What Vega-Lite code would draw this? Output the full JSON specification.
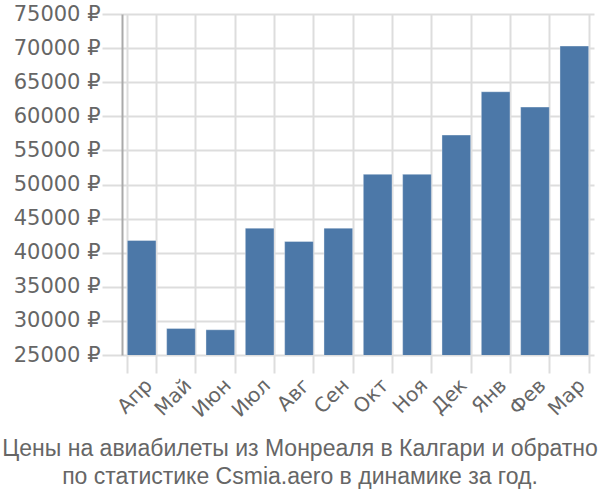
{
  "$schema": "https://vega.github.io/schema/vega-lite/v6.json",
  "width": 472,
  "height": 341,
  "autosize": {"type": "none"},
  "padding": {"left": 122, "top": 14, "right": 6, "bottom": 145},
  "background": "white",
  "config": {"view": {"stroke": null}},
  "title": {
    "text": ["Цены на авиабилеты из Монреаля в Калгари и обратно", "по статистике Csmia.aero в динамике за год."],
    "orient": "bottom",
    "anchor": "middle",
    "frame": "group",
    "dx": -58,
    "offset": 17,
    "font": "Liberation Sans",
    "fontSize": 23,
    "fontWeight": "normal",
    "color": "#666666",
    "lineHeight": 28
  },
  "data": {
    "values": [
      {"month": "Апр", "price": 41800},
      {"month": "Май", "price": 28900},
      {"month": "Июн", "price": 28700},
      {"month": "Июл", "price": 43600},
      {"month": "Авг", "price": 41650},
      {"month": "Сен", "price": 43600},
      {"month": "Окт", "price": 51500},
      {"month": "Ноя", "price": 51500},
      {"month": "Дек", "price": 57250},
      {"month": "Янв", "price": 63600},
      {"month": "Фев", "price": 61350},
      {"month": "Мар", "price": 70300}
    ]
  },
  "mark": {"type": "bar", "clip": true, "color": "#4c78a8", "stroke": "white", "strokeOpacity": 0.35, "strokeWidth": 1},
  "encoding": {
    "x": {
      "field": "month",
      "type": "nominal",
      "sort": null,
      "scale": {"paddingInner": 0.27, "paddingOuter": 0.135},
      "axis": {
        "title": null,
        "labelAngle": -45,
        "labelFont": "DejaVu Sans",
        "labelFontSize": 20,
        "labelColor": "#666666",
        "tickBand": "extent",
        "tickSize": 18,
        "tickColor": "#dddddd",
        "tickWidth": 2,
        "grid": true,
        "gridColor": "#dddddd",
        "gridWidth": 2,
        "domain": false,
        "labelPadding": 2
      }
    },
    "y": {
      "field": "price",
      "type": "quantitative",
      "scale": {"domain": [25000, 75000], "nice": false, "zero": false},
      "axis": {
        "title": null,
        "values": [25000, 30000, 35000, 40000, 45000, 50000, 55000, 60000, 65000, 70000, 75000],
        "labelExpr": "datum.value + ' ₽'",
        "labelFont": "DejaVu Sans",
        "labelFontSize": 21,
        "labelColor": "#666666",
        "tickSize": 20,
        "tickColor": "#dddddd",
        "tickWidth": 2,
        "grid": true,
        "gridColor": "#dddddd",
        "gridWidth": 2,
        "domain": true,
        "domainColor": "#aaaaaa",
        "domainWidth": 2,
        "labelPadding": 2
      }
    }
  }
}
